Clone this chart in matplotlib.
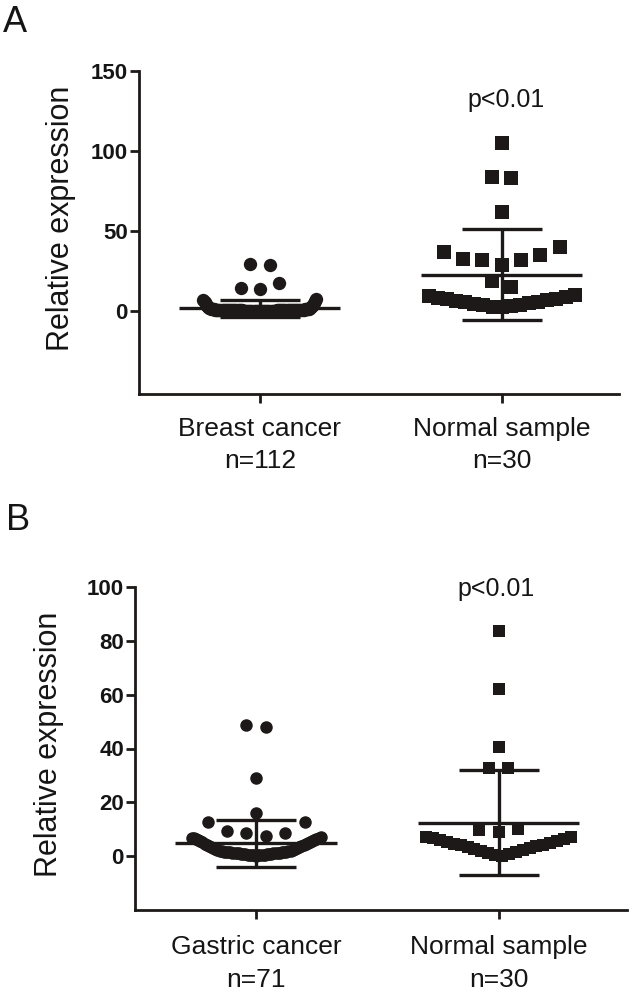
import numpy as np
import matplotlib
matplotlib.use('Agg')
import matplotlib.pyplot as plt

plt.rcParams['font.family'] = ['Liberation Sans', 'DejaVu Sans']

# ---------------- data ----------------
# Panel A
a_labels = ['Breast cancer\nn=112', 'Normal sample\nn=30']
a_breast = [29.2, 29.5, 14.1, 14.5, 17.6,
            7.5, 7.2, 6.6, 6.0, 5.3, 4.6, 4.0, 3.5, 3.1, 2.8, 2.5, 2.3, 2.1, 1.9,
            0.1, 0.1, 0.1, 0.2, 0.2, 0.2, 0.2, 0.2, 0.3, 0.3, 0.3, 0.3, 0.3, 0.3, 0.3,
            0.4, 0.4, 0.4, 0.4, 0.4, 0.4, 0.4, 0.4, 0.5, 0.5, 0.5, 0.5, 0.5, 0.5, 0.5,
            0.5, 0.5, 0.6, 0.6, 0.6, 0.6, 0.6, 0.6, 0.6, 0.6, 0.6, 0.7, 0.7, 0.7, 0.7,
            0.7, 0.7, 0.7, 0.7, 0.7, 0.8, 0.8, 0.8, 0.8, 0.8, 0.8, 0.8, 0.8, 0.9, 0.9,
            0.9, 0.9, 0.9, 0.9, 0.9, 0.9, 1.0, 1.0, 1.0, 1.0, 1.0, 1.0, 1.0, 1.1, 1.1,
            1.1, 1.1, 1.1, 1.1, 1.2, 1.2, 1.2, 1.2, 1.2, 1.3, 1.3, 1.3, 1.4, 1.4, 1.5,
            1.5, 1.6, 1.7]
a_normal = [105.0, 83.2, 84.0, 61.9, 40.2, 35.4, 32.3, 28.8, 32.3, 32.9, 37.3,
            18.8, 15.3,
            2.5, 3.0, 3.4, 3.9, 4.3, 4.8, 5.2, 5.7, 6.1, 6.6, 7.0, 7.5, 7.9, 8.4,
            8.8, 9.4, 10.0]
a_mean = [1.9, 22.8]
a_sd = [5.5, 28.4]

# Panel B
b_labels = ['Gastric cancer\nn=71', 'Normal sample\nn=30']
b_gastric = [48.1, 48.7, 28.9, 15.9, 12.8, 12.8, 9.3, 8.7, 8.7, 7.5,
             0.2, 0.3, 0.3, 0.4, 0.4, 0.5, 0.5, 0.6, 0.6, 0.7, 0.7, 0.8, 0.8, 0.9,
             0.9, 1.0, 1.0, 1.1, 1.1, 1.2, 1.2, 1.3, 1.3, 1.4, 1.4, 1.5, 1.5, 1.6,
             1.6, 1.7, 1.8, 1.9, 2.0, 2.1, 2.2, 2.4, 2.5, 2.7, 2.9, 3.1, 3.3, 3.5,
             3.7, 3.9, 4.1, 4.3, 4.5, 4.7, 4.9, 5.1, 5.3, 5.5, 5.7, 5.9, 6.1, 6.3,
             6.5, 6.6, 6.8, 6.9, 7.0]
b_normal = [83.6, 62.2, 40.5, 32.7, 32.9, 9.7, 9.1, 10.1,
            0.1, 0.5, 0.8, 1.2, 1.5, 1.9, 2.2, 2.6, 2.9, 3.3, 3.6, 4.0, 4.3, 4.7,
            5.0, 5.4, 5.7, 6.1, 6.4, 6.8, 7.0, 7.2]
b_mean = [4.8, 12.4]
b_sd = [8.8, 19.5]

INK = '#1e1919'
TXT = '#151515'


def scatter_offsets(values, bin_h, step, width):
    """Prism-like column scatter: sort, group into rows, spread each row."""
    values = np.asarray(values, float)
    order = np.argsort(values, kind='stable')
    x = np.zeros(len(values))
    i = 0
    while i < len(order):
        start = values[order[i]]
        j = i
        while j < len(order) and values[order[j]] <= start + bin_h:
            j += 1
        idx = order[i:j]
        n = len(idx)
        dx = step if n < 2 else min(step, width / (n - 1))
        slots = [0]
        for k in range(1, n):
            slots.append(((k + 1) // 2) * (-1 if k % 2 else 1))
        slots = np.array(slots, float)
        slots -= slots.mean()
        x[idx] = slots * dx
        i = j
    return x


def draw_panel(ax, groups, markers, bin_h, widths, means, sds, ms):
    for c, (vals, mk, w) in enumerate(zip(groups, markers, widths)):
        off = scatter_offsets(vals, bin_h, 0.08, w)
        ax.plot(c + off, vals, linestyle='none', marker=mk, ms=ms,
                mew=0, color=INK, zorder=2)
        m, s = means[c], sds[c]
        ax.hlines(m, c - 0.333, c + 0.333, color=INK, lw=2.4, zorder=3)
        ax.vlines(c, m - s, m + s, color=INK, lw=2.4, zorder=3)
        ax.hlines([m - s, m + s], c - 0.165, c + 0.165, color=INK, lw=2.4, zorder=3)
    for side in ['top', 'right']:
        ax.spines[side].set_visible(False)
    for side in ['left', 'bottom']:
        ax.spines[side].set_linewidth(2.0)
        ax.spines[side].set_color(INK)
    ax.tick_params(axis='y', length=6.5, width=2.0, color=INK, pad=1.5,
                   labelsize=16, labelcolor=TXT)


fig = plt.figure(figsize=(6.32, 9.92), dpi=100)

# ---------------- Panel A ----------------
axA = fig.add_axes([139 / 632, 1 - 394 / 992, 480 / 632, (394 - 71) / 992])
draw_panel(axA, [a_breast, a_normal], ['o', 's'], 12, [0.467, 0.604],
           a_mean, a_sd, 9.6)
axA.set_ylim(-51.5, 150)
axA.set_xlim(-0.5, 1.485)
axA.set_yticks([0, 50, 100, 150])
for t in axA.get_yticklabels():
    t.set_fontweight('bold')
axA.set_xticks([0, 1])
axA.set_xticklabels(a_labels, fontsize=19, color=TXT, linespacing=1.45)
axA.tick_params(axis='x', length=6.5, width=2.0, color=INK, pad=10)
axA.set_ylabel('Relative expression', fontsize=22, color=TXT)
axA.yaxis.set_label_coords(-0.1315, 0.544)
axA.text(1.02, 127.8, 'p<0.01', fontsize=18, color=TXT, ha='center', va='baseline')

# ---------------- Panel B ----------------
axB = fig.add_axes([135 / 632, 1 - 910 / 992, 492 / 632, (910 - 587) / 992])
draw_panel(axB, [b_gastric, b_normal], ['o', 's'], 7.2, [0.533, 0.596],
           b_mean, b_sd, 9.0)
axB.set_ylim(-20, 100)
axB.set_xlim(-0.5, 1.53)
axB.set_yticks([0, 20, 40, 60, 80, 100])
for t in axB.get_yticklabels():
    t.set_fontweight('bold')
axB.set_xticks([0, 1])
axB.set_xticklabels(b_labels, fontsize=19, color=TXT, linespacing=1.45)
axB.tick_params(axis='x', length=6.5, width=2.0, color=INK, pad=11.5)
axB.set_ylabel('Relative expression', fontsize=22, color=TXT)
axB.yaxis.set_label_coords(-0.144, 0.514)
axB.text(0.99, 96.6, 'p<0.01', fontsize=18, color=TXT, ha='center', va='baseline')

fig.text(3 / 632, 1 - 31.7 / 992, 'A', fontsize=26, color=TXT, va='baseline')
fig.text(6 / 632, 1 - 530 / 992, 'B', fontsize=26, color=TXT, va='baseline')

fig.savefig('out.png', dpi=100, facecolor='white')
